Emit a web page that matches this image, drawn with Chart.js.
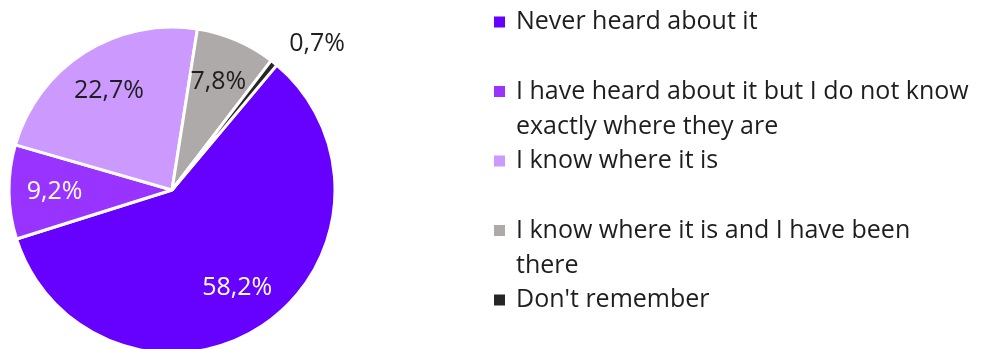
<!DOCTYPE html>
<html>
<head>
<meta charset="utf-8">
<script src="https://cdn.jsdelivr.net/npm/chart.js@4/dist/chart.umd.min.js"></script>
<style>
  html, body { margin: 0; padding: 0; background: #fff; }
</style>
</head>
<body>
<canvas id="chart" width="984" height="349"></canvas>
<script>
// categories (multi-line where the legend wraps)
const categories = [
  'Never heard about it',
  ['I have heard about it but I do not know', 'exactly where they are'],
  'I know where it is',
  ['I know where it is and I have been', 'there'],
  "Don't remember"
];
const shares = [58.2, 9.2, 22.7, 7.8, 0.7];
const sliceColors = ['#6600FF', '#9933FF', '#CC99FF', '#AEAAAA', '#262626'];

const FONT = '25px "Open Sans", Lato, sans-serif';
const TEXT = '#1e1e1e';

function pct(v) {
  return v.toFixed(1).replace('.', ',') + '%';
}

// percentage labels on / next to the slices
const sliceLabels = {
  id: 'sliceLabels',
  afterDatasetsDraw(chart) {
    const ctx = chart.ctx;
    const meta = chart.getDatasetMeta(0);
    ctx.save();
    ctx.font = FONT;
    ctx.textBaseline = 'middle';
    meta.data.forEach((arc, i) => {
      const p = arc.getProps(['x', 'y', 'startAngle', 'endAngle', 'outerRadius'], true);
      const mid = (p.startAngle + p.endAngle) / 2;
      const small = (p.endAngle - p.startAngle) < 0.1;
      const r = p.outerRadius * (small ? 1.15 : 0.72);
      ctx.textAlign = small ? 'left' : 'center';
      ctx.fillStyle = i < 2 ? '#ffffff' : TEXT;
      ctx.fillText(pct(shares[i]), p.x + Math.cos(mid) * r, p.y + Math.sin(mid) * r);
    });
    ctx.restore();
  }
};

// legend on the right, one fixed slot per entry
const sideLegend = {
  id: 'sideLegend',
  afterDraw(chart) {
    const ctx = chart.ctx;
    const colors = chart.data.datasets[0].backgroundColor;
    const x0 = 494, box = 11, textX = 516;
    const top = 22, slot = 69.5, lineH = 35.5;
    ctx.save();
    ctx.font = FONT;
    ctx.textBaseline = 'middle';
    ctx.textAlign = 'left';
    chart.data.labels.forEach((lab, i) => {
      const y = top + i * slot;
      ctx.fillStyle = colors[i];
      ctx.fillRect(x0, y - box / 2, box, box);
      ctx.fillStyle = TEXT;
      const lines = Array.isArray(lab) ? lab : [lab];
      lines.forEach((ln, k) => ctx.fillText(ln, textX, y + k * lineH));
    });
    ctx.restore();
  }
};

new Chart(document.getElementById('chart'), {
  type: 'pie',
  data: {
    labels: categories,
    datasets: [{
      data: shares,
      backgroundColor: sliceColors,
      borderColor: '#ffffff',
      borderWidth: 3,
      clip: false
    }]
  },
  options: {
    responsive: false,
    animation: false,
    rotation: 40,
    radius: 163,
    layout: { padding: { left: 0, top: 31, right: 640, bottom: 0 } },
    plugins: {
      legend: { display: false },
      tooltip: { enabled: false }
    }
  },
  plugins: [sliceLabels, sideLegend]
});
</script>
</body>
</html>
